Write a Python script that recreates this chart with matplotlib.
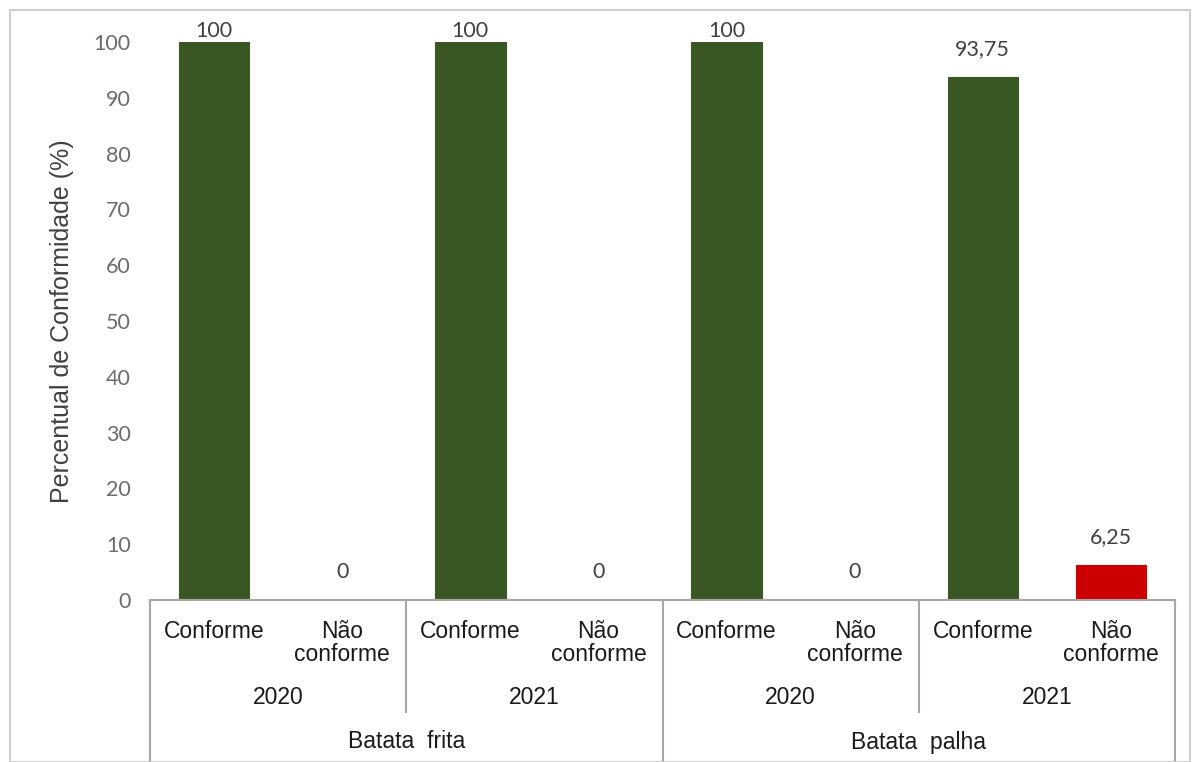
import matplotlib
matplotlib.use("Agg")
import matplotlib.pyplot as plt
import matplotlib.transforms as mtransforms
from matplotlib.patches import Rectangle

# Conformity results per product / year / class
products = ["Batata  frita", "Batata  palha"]
years = ["2020", "2021"]
classes = ["Conforme", "Não\nconforme"]
values = [100, 0, 100, 0, 100, 0, 93.75, 6.25]
value_labels = ["100", "0", "100", "0", "100", "0", "93,75", "6,25"]
bar_colors = ["#385723", "#385723", "#385723", "#385723",
              "#385723", "#385723", "#385723", "#cc0000"]
yticks = [0, 10, 20, 30, 40, 50, 60, 70, 80, 90, 100]

W, H = 1196, 762
fig = plt.figure(figsize=(W / 100, H / 100), dpi=100)
fig.patch.set_facecolor("white")

# thin frame around the whole picture
fig.patches.append(Rectangle((10 / W, 0), 1180 / W, 1 - 10 / H, transform=fig.transFigure,
                             fill=False, edgecolor="#cfcfcf", linewidth=1.5))

ax = fig.add_axes([150 / W, (H - 600) / H, 1025 / W, 558 / H])
x = list(range(len(values)))
ax.bar(x, values, width=0.55, color=bar_colors, edgecolor=bar_colors, linewidth=0.8)

ax.set_xlim(-0.5, len(values) - 0.5)
ax.set_ylim(0, 100)
ax.set_yticks(yticks)
ax.set_yticklabels([str(t) for t in yticks], fontsize=15.5, color="#6b6b6b", family="Lato")
ax.tick_params(axis="y", length=0, pad=14)
ax.tick_params(axis="x", bottom=False, labelbottom=False)
for s in ["top", "right", "left"]:
    ax.spines[s].set_visible(False)
ax.spines["bottom"].set_color("#a6a6a6")
ax.spines["bottom"].set_linewidth(1.5)

ax.set_ylabel("Percentual de Conformidade (%)", fontsize=18, color="#404040",
              family="Liberation Sans", labelpad=14)

# value labels (the top ones sit right on the bar)
for xi, v, lab in zip(x, values, value_labels):
    ax.text(xi, min(v + 3.2, 100.2), lab, ha="center", va="bottom", fontsize=15.5,
            color="#404040", family="Lato", clip_on=False)

# category table below the axis
tr = mtransforms.blended_transform_factory(ax.transData, fig.transFigure)
def fy(p):
    return 1 - p / H

line_kw = dict(color="#a6a6a6", linewidth=1.5, transform=tr, clip_on=False)
for xb in [-0.5, 3.5, 7.5]:
    ax.plot([xb, xb], [fy(600), fy(762)], **line_kw)
for xb in [1.5, 5.5]:
    ax.plot([xb, xb], [fy(600), fy(712)], **line_kw)

txt_kw = dict(transform=tr, ha="center", fontsize=16.5, color="#1a1a1a",
              family="Liberation Sans")
for i in range(len(values)):
    cls = classes[i % 2]
    if "\n" in cls:
        ax.text(i, fy(643), cls, va="center", linespacing=1.05, **txt_kw)
    else:
        ax.text(i, fy(631), cls, va="center", **txt_kw)
for j in range(4):
    ax.text(2 * j + 0.5, fy(697), years[j % 2], va="center", **txt_kw)
for k, p in enumerate(products):
    ax.text(4 * k + 1.5, fy(742), p, va="center", **txt_kw)

fig.savefig("out.png", dpi=100, facecolor="white")
